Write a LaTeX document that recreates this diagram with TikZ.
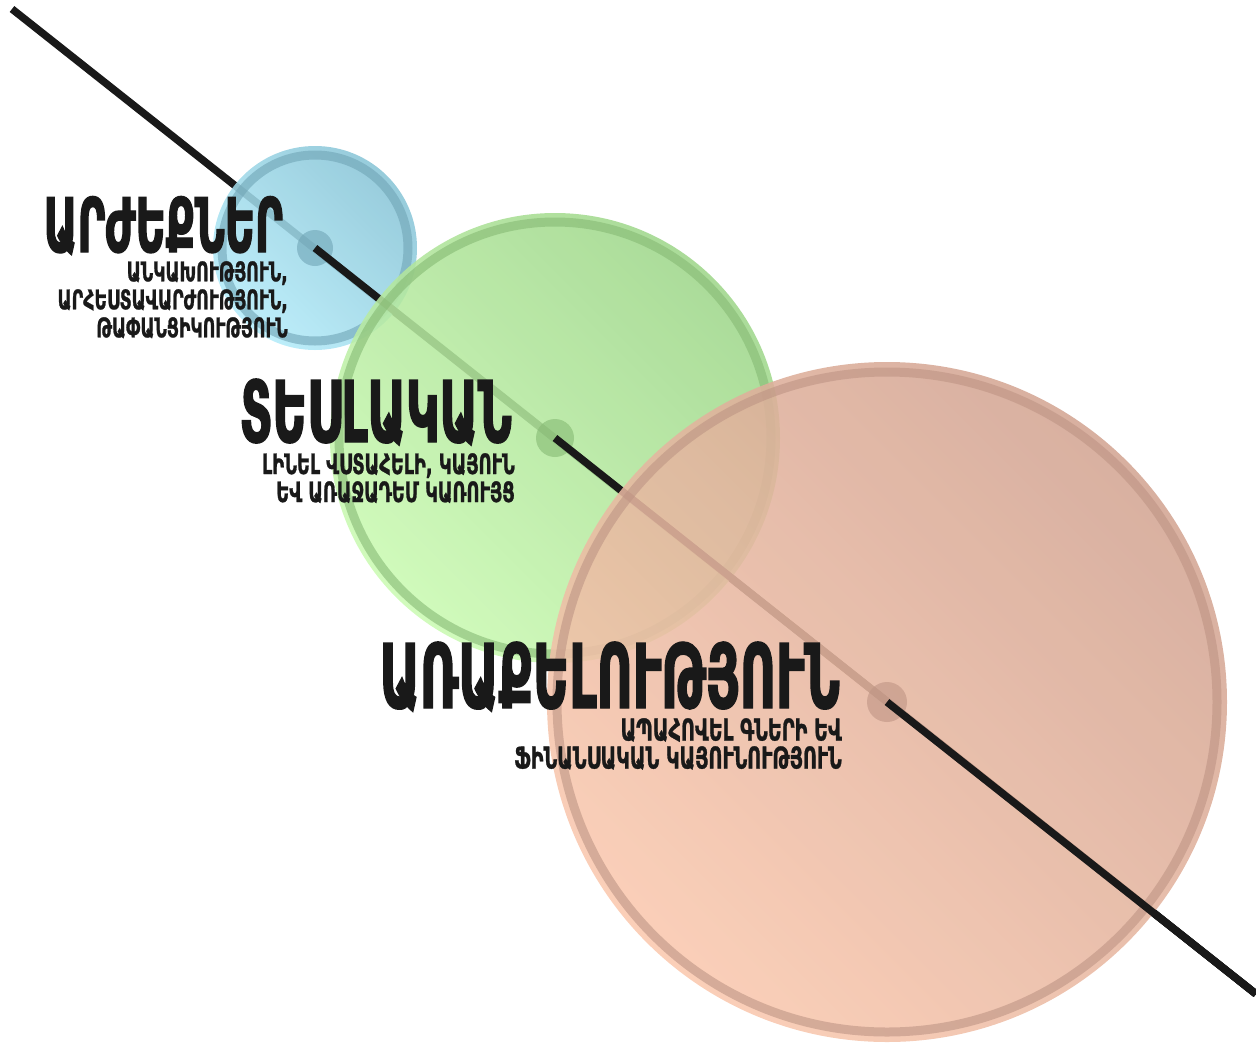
\documentclass[tikz,border=0pt]{standalone}
\usepackage{fontspec}
\newfontfamily\armtitle[FakeStretch=0.555,FakeBold=1.6]{DejaVu Sans Bold}
\newfontfamily\armsub[FakeStretch=0.64,FakeBold=0.9]{DejaVu Sans Bold}
\usetikzlibrary{positioning}

\definecolor{blueA}{RGB}{136,196,214}
\definecolor{blueB}{RGB}{180,236,250}
\definecolor{blueR}{RGB}{112,165,182}
\definecolor{greenA}{RGB}{158,214,138}
\definecolor{greenB}{RGB}{202,250,178}
\definecolor{greenR}{RGB}{134,186,116}
\definecolor{salmonA}{RGB}{210,164,146}
\definecolor{salmonB}{RGB}{250,200,174}
\definecolor{salmonR}{RGB}{190,148,132}

\tikzset{
  axisline/.style={line width=7.5pt, color=black!90},
  disc/.style={fill opacity=0.87, shading angle=-45},
  ring/.style={draw=#1, line width=9pt, draw opacity=0.6},
  hub/.style={fill=#1, fill opacity=0.6},
  title/.style={inner sep=0pt, anchor=base east, text=black!90,
    font=\armtitle\fontsize{#1}{#1}\selectfont},
  subtitle/.style={inner sep=0pt, anchor=north east, align=right, text=black!90,
    font=\armsub\fontsize{#1}{28pt}\selectfont}
}

\begin{document}
\begin{tikzpicture}[x=1pt,y=-1pt]
  \useasboundingbox (0,0) rectangle (1256,1042);
  \coordinate (start) at (12,9);
  \coordinate (end) at (1256,994);
  \coordinate (vals) at (315,248);
  \coordinate (vision) at (555,438);
  \coordinate (mission) at (887,702);

  \draw[axisline] (start) -- (end);

  % values
  \shade[top color=blueA, bottom color=blueB, disc] (vals) circle (102pt);
  \draw[ring=blueR] (vals) circle (93pt);
  \fill[hub=blueR] (vals) circle (18pt);
  \draw[axisline] (vals) -- (end);

  % vision
  \shade[top color=greenA, bottom color=greenB, disc] (vision) circle (225pt);
  \draw[ring=greenR] (vision) circle (216pt);
  \fill[hub=greenR] (vision) circle (19pt);
  \draw[axisline] (vision) -- (end);

  % mission
  \shade[top color=salmonA, bottom color=salmonB, disc] (mission) circle (340pt);
  \draw[ring=salmonR] (mission) circle (330pt);
  \fill[hub=salmonR] (mission) circle (20pt);
  \draw[axisline] (mission) -- (end);

  % texts
  \node[title=75pt] (valsT) at ([xshift=-32pt,yshift=-4pt]vals) {ԱՐԺԵՔՆԵՐ};
  \node[subtitle=27pt] (valsS) at ([xshift=5pt,yshift=-9pt]valsT.base east)
    {ԱՆԿԱԽՈՒԹՅՈՒՆ,\\ԱՐՀԵՍՏԱՎԱՐԺՈՒԹՅՈՒՆ,\\ԹԱՓԱՆՑԻԿՈՒԹՅՈՒՆ};

  \node[title=85pt] (visionT) at ([xshift=-43pt,yshift=-4pt]vision) {ՏԵՍԼԱԿԱՆ};
  \node[subtitle=28pt] (visionS) at ([xshift=3pt,yshift=-11pt]visionT.base east)
    {ԼԻՆԵԼ ՎՍՏԱՀԵԼԻ, ԿԱՅՈՒՆ\\ԵՎ ԱՌԱՋԱԴԵՄ ԿԱՌՈՒՅՑ};

  \node[title=89pt] (missionT) at ([xshift=-47pt,yshift=-6pt]mission) {ԱՌԱՔԵԼՈՒԹՅՈՒՆ};
  \node[subtitle=30pt] (missionS) at ([xshift=2pt,yshift=-10pt]missionT.base east)
    {ԱՊԱՀՈՎԵԼ ԳՆԵՐԻ ԵՎ\\ՖԻՆԱՆՍԱԿԱՆ ԿԱՅՈՒՆՈՒԹՅՈՒՆ};
\end{tikzpicture}
\end{document}
